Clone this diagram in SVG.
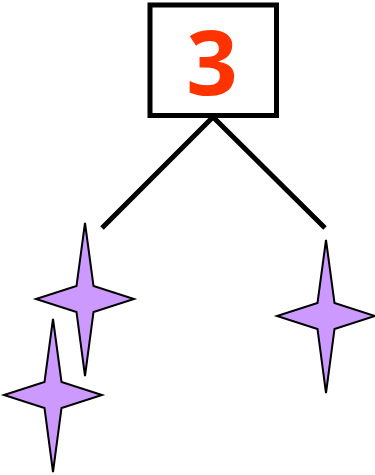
<svg xmlns="http://www.w3.org/2000/svg" width="375" height="475" viewBox="0 0 375 475">
<defs>
<style>
.star{fill:#CC99FF;stroke:#000;stroke-width:2;stroke-linejoin:miter}
.conn{stroke:#000;stroke-width:5;fill:none}
</style>
<path id="starShape" d="M0,-76 L8.5,-13 L49,0 L8.5,13 L0,77 L-8.5,13 L-49,0 L-8.5,-13 Z"/>
</defs>
<rect width="375" height="475" fill="#fff"/>
<g id="connectors">
<path class="conn" d="M213,117 L102,228"/>
<path class="conn" d="M213,117 L325,228"/>
</g>
<g id="node-3">
<rect x="150" y="5" width="126.5" height="110.5" fill="#fff" stroke="#000" stroke-width="5"/>
<text x="212" y="95" text-anchor="middle" font-family="Open Sans, sans-serif" font-weight="bold" font-size="90" fill="#FF3300">3</text>
</g>
<g id="star-1"><use href="#starShape" class="star" transform="translate(85,299)"/></g>
<g id="star-2"><use href="#starShape" class="star" transform="translate(53,395)"/></g>
<g id="star-3"><use href="#starShape" class="star" transform="translate(326,316)"/></g>
</svg>
